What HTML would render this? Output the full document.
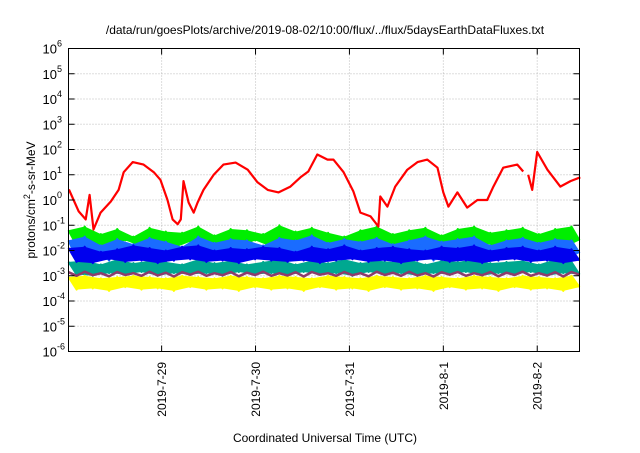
<!DOCTYPE html>
<html><head><meta charset="utf-8"><style>
body{margin:0;background:#fff;width:640px;height:448px;overflow:hidden;font-family:"Liberation Sans",sans-serif}
text{font-family:"Liberation Sans",sans-serif;fill:#000}
</style></head><body>
<svg id="chart" width="640" height="448" viewBox="0 0 640 448" xmlns="http://www.w3.org/2000/svg">
<text x="325" y="34" font-size="12" text-anchor="middle">/data/run/goesPlots/archive/2019-08-02/10:00/flux/../flux/5daysEarthDataFluxes.txt</text>
<g id="grid"></g>
<g id="series"></g>
<rect x="68.5" y="48.5" width="511" height="303" fill="none" stroke="#000" stroke-width="1"/>
<g id="axes"></g>
<text transform="translate(35,200) rotate(-90)" font-size="12" text-anchor="middle">protons/cm<tspan dy="-5" font-size="9">2</tspan><tspan dy="5">-s-sr-MeV</tspan></text>
<text x="325" y="442" font-size="12" text-anchor="middle">Coordinated Universal Time (UTC)</text>
</svg>
<script>
const xTickLabels=["2019-7-29","2019-7-30","2019-7-31","2019-8-1","2019-8-2"];
const xTickHours=[24,48,72,96,120];
const yTickExps=[-6,-5,-4,-3,-2,-1,0,1,2,3,4,5,6];
const redHours=[0.3,1.5,2.8,4.6,5.6,6.6,8.4,11,13,14.3,16.6,19.4,22,23.7,25.5,26.8,28.1,28.9,29.6,30.9,32.2,33.2,34.7,37.3,39.8,42.9,46,48.5,51.1,53.9,56.9,59.5,61.5,63.8,66.4,67.9,70.5,73,74.8,77.4,79.4,79.9,81.7,83.7,86.8,89.4,91.9,94.5,96,97.3,99.6,102.1,104.7,107.2,108.8,111.3,114.9,116.4,null,117.7,118.7,120,122.6,125.9,128.5,131];
const redLog=[0.42,0.0,-0.45,-0.77,0.2,-1.17,-0.5,-0.06,0.4,1.1,1.5,1.4,1.1,0.8,0,-0.77,-0.96,-0.77,0.75,-0.1,-0.5,-0.1,0.4,1.0,1.4,1.48,1.2,0.7,0.4,0.3,0.53,0.9,1.13,1.8,1.6,1.6,1.1,0.35,-0.5,-0.65,-1.05,0.14,-0.26,0.53,1.2,1.5,1.6,1.28,0.3,-0.26,0.3,-0.3,0.0,0.0,0.53,1.28,1.4,1.13,null,1.0,0.4,1.9,1.2,0.53,0.75,0.9];
const greenLog=[-1.2,-1.8,-1.05,-1.7,-1.35,-1.9,-1.15,-1.6,-1.45,-1.85,-1.1,-1.75,-1.25,-1.9,-1.3,-1.65,-1.05,-1.8,-1.4,-1.75,-1.15,-1.9,-1.2,-1.6,-1.35,-1.85,-1.0,-1.7,-1.25,-1.8,-1.1,-1.75,-1.3,-1.9,-1.45,-1.65,-1.2,-1.8,-1.05,-1.7,-1.35,-1.85,-1.2,-1.6,-1.1,-1.9,-1.4,-1.75,-1.15,-1.8,-1.05,-1.7,-1.3,-1.85,-1.2,-1.65,-1.1,-1.8,-1.35,-1.7,-1.15,-1.9,-1.05,-1.6];
const lightBlueLog=[-1.6,-2.3,-1.45,-2.2,-1.8,-2.4,-1.55,-2.1,-1.75,-2.35,-1.5,-2.2,-1.65,-2.4,-1.85,-2.15,-1.45,-2.3,-1.7,-2.25,-1.55,-2.4,-1.6,-2.1,-1.8,-2.35,-1.5,-2.2,-1.6,-2.3,-1.4,-2.25,-1.7,-2.4,-1.55,-2.15,-1.65,-2.3,-1.5,-2.2,-1.75,-2.35,-1.6,-2.1,-1.45,-2.4,-1.65,-2.25,-1.55,-2.3,-1.45,-2.2,-1.8,-2.35,-1.6,-2.15,-1.5,-2.3,-1.7,-2.2,-1.55,-2.4,-1.6,-2.1];
const blueLog=[-1.9,-2.45,-1.85,-2.5,-2.05,-2.35,-1.95,-2.45,-1.8,-2.4,-1.9,-2.5,-2.0,-2.4,-1.85,-2.35,-1.8,-2.45,-2.0,-2.4,-1.9,-2.5,-1.95,-2.35,-1.85,-2.4,-1.9,-2.45,-2.05,-2.4,-1.85,-2.5,-1.95,-2.4,-1.8,-2.35,-2.0,-2.45,-1.9,-2.4,-1.85,-2.5,-1.95,-2.4,-2.0,-2.35,-1.85,-2.45,-1.9,-2.4,-1.8,-2.5,-2.0,-2.4,-1.9,-2.35,-1.85,-2.45,-2.0,-2.4,-1.85,-2.5,-1.95,-2.4];
const tealLog=[-2.45,-2.95,-2.4,-3.0,-2.55,-2.9,-2.35,-2.95,-2.5,-2.85,-2.4,-3.0,-2.45,-2.9,-2.55,-2.95,-2.35,-2.9,-2.5,-3.0,-2.4,-2.85,-2.55,-2.95,-2.45,-2.9,-2.35,-3.0,-2.55,-2.85,-2.4,-2.95,-2.5,-2.9,-2.35,-3.0,-2.5,-2.85,-2.4,-2.95,-2.45,-2.9,-2.35,-3.0,-2.55,-2.9,-2.4,-2.95,-2.45,-2.85,-2.35,-3.0,-2.5,-2.9,-2.45,-2.95,-2.4,-2.85,-2.55,-3.0,-2.35,-2.9,-2.45,-2.95];
const yellowLog=[-3.05,-3.55,-3.0,-3.5,-3.1,-3.6,-3.05,-3.45,-3.0,-3.55,-3.05,-3.5,-3.1,-3.6,-3.0,-3.45,-3.05,-3.55,-3.1,-3.5,-3.0,-3.6,-3.05,-3.45,-3.1,-3.55,-3.0,-3.5,-3.05,-3.6,-3.1,-3.45,-3.0,-3.55,-3.05,-3.5,-3.1,-3.6,-3.0,-3.45,-3.05,-3.55,-3.1,-3.5,-3.0,-3.6,-3.05,-3.45,-3.1,-3.55,-3.0,-3.5,-3.05,-3.6,-3.1,-3.45,-3.0,-3.55,-3.05,-3.5,-3.1,-3.6,-3.0,-3.45];
const purpleLog=[-2.86,-3.0,-2.84,-2.98,-2.9,-3.02,-2.85,-2.97,-2.9,-3.0,-2.84,-2.99,-2.88,-3.03,-2.86,-2.96,-2.84,-3.0,-2.9,-2.98,-2.85,-3.02,-2.88,-2.97,-2.84,-3.0,-2.9,-2.99,-2.86,-3.03,-2.85,-2.96,-2.9,-3.0,-2.85,-2.98,-2.9,-3.02,-2.84,-2.97,-2.88,-3.0,-2.84,-2.99,-2.9,-3.03,-2.86,-2.96,-2.85,-3.0,-2.9,-2.98,-2.85,-3.02,-2.88,-2.97,-2.84,-3.0,-2.9,-2.99,-2.86,-3.03,-2.85,-2.96];
const NS="http://www.w3.org/2000/svg";
const X0=68.5,X1=579.5,Y0=351.5,Y1=48.5,H0=0.2,H1=130.8,L0=-6,L1=6;
function xs(h){return X0+(h-H0)/(H1-H0)*(X1-X0);}
function ys(l){return Y0-(l-L0)/(L1-L0)*(Y0-Y1);}
function mk(tag,attrs,parent){const e=document.createElementNS(NS,tag);for(const k in attrs)e.setAttribute(k,attrs[k]);parent.appendChild(e);return e;}
const grid=document.getElementById('grid'),axes=document.getElementById('axes'),ser=document.getElementById('series');
yTickExps.forEach(function(p){
  const y=ys(p);
  if(p>L0&&p<L1){const g=mk('line',{x1:X0,x2:X1,y1:y,y2:y,stroke:'#bbb','stroke-dasharray':'1,2'},grid);
  
  }
  const t1=mk('line',{x1:X0,x2:X0+6,y1:y,y2:y,stroke:'#000'},axes);
  
  
  const t2=mk('line',{x1:X1-6,x2:X1,y1:y,y2:y,stroke:'#000'},axes);
  
  
  const tx=mk('text',{x:57,y:y+5,'font-size':'13','text-anchor':'end'},axes);
  
  
  tx.textContent='10';
  const sp=mk('tspan',{x:57,dy:-7,'font-size':'9','text-anchor':'start'},tx);
  sp.textContent=String(p);
});
xTickHours.forEach(function(h,i){
  const x=xs(h);
  const g=mk('line',{x1:x,x2:x,y1:Y1,y2:Y0,stroke:'#bbb','stroke-dasharray':'1,2'},grid);
  
  
  const t1=mk('line',{x1:x,x2:x,y1:Y0-6,y2:Y0,stroke:'#000'},axes);
  
  
  const t2=mk('line',{x1:x,x2:x,y1:Y1,y2:Y1+6,stroke:'#000'},axes);
  
  
  const tx=mk('text',{transform:'translate('+(x+4.5)+',362) rotate(-90)','font-size':'12','text-anchor':'end'},axes);
  
  
  tx.textContent=xTickLabels[i];
});
function band(vals,color,name,w,fill){
  const n=vals.length;let d='';
  const hs=vals.map(function(v,i){return H0+i*(H1-H0)/(n-1);});
  if(fill){
    let up='',lo=[];
    vals.forEach(function(v,i){
      const pt=xs(hs[i]).toFixed(1)+','+ys(v).toFixed(1);
      if(i%2===0){up+=(up?'L':'M')+pt;}else{lo.unshift(pt);}
    });
    const a=mk('path',{d:up+'L'+lo.join('L')+'Z',fill:color,stroke:'none'},ser);
    
    
  }
  vals.forEach(function(v,i){d+=(i?'L':'M')+xs(hs[i]).toFixed(1)+','+ys(v).toFixed(1);});
  const p=mk('path',{d:d,fill:'none',stroke:color,'stroke-width':w,'stroke-linejoin':'round'},ser);
  
  
}
band(greenLog,'#00ee00','series-green',2,true);
band(lightBlueLog,'#1a6cff','series-light-blue',2,true);
band(tealLog,'#00a890','series-teal',2,true);
band(blueLog,'#0000ee','series-blue',2,true);
band(yellowLog,'#ffff00','series-yellow',2,true);
band(purpleLog,'#8c3c6c','series-purple',2.5,false);
let d='',pen=false;
redHours.forEach(function(h,i){
  if(h===null||redLog[i]===null){pen=false;return;}
  d+=(pen?'L':'M')+xs(h).toFixed(1)+','+ys(redLog[i]).toFixed(1);pen=true;
});
const red=mk('path',{d:d,fill:'none',stroke:'#ff0000','stroke-width':2.2,'stroke-linejoin':'round'},ser);


</script>
</body></html>
